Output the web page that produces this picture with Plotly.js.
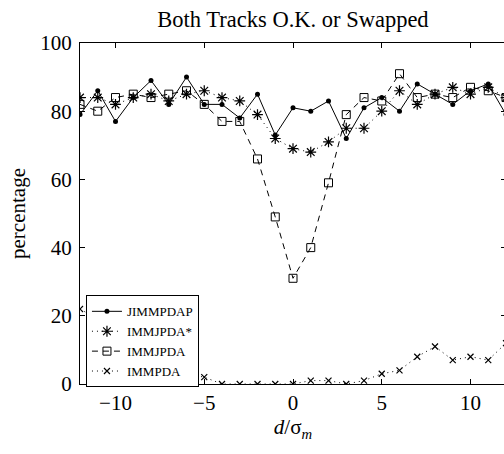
<!DOCTYPE html>
<html>
<head>
<meta charset="utf-8">
<script src="https://cdn.plot.ly/plotly-3.0.1.min.js"></script>
<style>
html,body{margin:0;padding:0;overflow:hidden;background:#fff;}
#chart{width:512px;height:454px;}
</style>
</head>
<body>
<div id="chart"></div>
<script>
// separation d/sigma_m
const dValues = [-12,-11,-10,-9,-8,-7,-6,-5,-4,-3,-2,-1,0,1,2,3,4,5,6,7,8,9,10,11,12];
// percentage of runs with both tracks OK or swapped
const jimmpdap = [79,86,77,84,89,82,90,82,82,78,85,73,81,80,83,72,81,84,80,88,85,82,86,88,79];
const immjpdaStar = [84,84,82,84,85,83,85,86,84,83,79,72,69,68,71,75,75,80,86,82,85,87,85,87,84];
const immjpda = [82,80,84,85,84,85,86,82,77,77,66,49,31,40,59,79,84,83,91,84,85,84,87,86,84];
const immpda = [22,19,15,11,8,5,3,2,0,0,0,0,0,1,1,0,1,3,4,8,11,7,8,7,12];
const seriesNames = ["JIMMPDAP","IMMJPDA*","IMMJPDA","IMMPDA"];
const xTicks = [-10,-5,0,5,10];
const yTicks = [0,20,40,60,80,100];

const FONT = "Liberation Serif, Times New Roman, serif";

const traces = [
  {x:dValues, y:jimmpdap, name:seriesNames[0], mode:"lines+markers",
   line:{color:"#000", width:1},
   marker:{symbol:"circle", size:5, color:"#000"}},
  {x:dValues, y:immjpdaStar, name:seriesNames[1], mode:"lines+markers",
   line:{color:"#000", width:1, dash:"1px,4px"},
   marker:{symbol:"asterisk-open", size:9, color:"#000", line:{color:"#000", width:1.2}}},
  {x:dValues, y:immjpda, name:seriesNames[2], mode:"lines+markers",
   line:{color:"#000", width:1, dash:"6px,5px"},
   marker:{symbol:"square-open", size:8, color:"#000", line:{color:"#000", width:1}}},
  {x:dValues, y:immpda, name:seriesNames[3], mode:"lines+markers",
   line:{color:"#000", width:1, dash:"1px,4px"},
   marker:{symbol:"x-thin-open", size:6, color:"#000", line:{color:"#000", width:1.2}}}
];

const axisCommon = {
  showline:true, linecolor:"#000", linewidth:1, mirror:"ticks",
  ticks:"inside", ticklen:5, tickcolor:"#000", tickwidth:1,
  showgrid:false, zeroline:false,
  tickfont:{family:FONT, size:21, color:"#000"}
};

const layout = {
  width:512, height:454,
  margin:{l:80, r:6, t:43, b:70},
  paper_bgcolor:"#fff", plot_bgcolor:"#fff",
  font:{family:FONT, color:"#000"},
  title:{text:"Both Tracks O.K. or Swapped", font:{family:FONT, size:22.5, color:"#000"},
         x:0.5, xref:"paper", y:1-19/454, yref:"container", yanchor:"middle"},
  xaxis:Object.assign({}, axisCommon, {
    range:[-12,12], tickvals:xTicks, ticktext:xTicks.map(v=>v<0?"\u2212"+Math.abs(v):String(v)),
    title:{text:"<i>d</i>/σ<sub><i>m</i></sub>", font:{family:FONT, size:21, color:"#000"}, standoff:4}
  }),
  yaxis:Object.assign({}, axisCommon, {
    range:[0,100], tickvals:yTicks, ticklabelstandoff:3,
    title:{text:"percentage", font:{family:FONT, size:21, color:"#000"}, standoff:8}
  }),
  showlegend:true,
  legend:{x:0.014, y:0.125, xanchor:"left", yanchor:"middle",
          bgcolor:"#fff", bordercolor:"#000", borderwidth:1,
          font:{family:FONT, size:13, color:"#000"}, itemwidth:30, tracegroupgap:0}
};

Plotly.newPlot("chart", traces, layout, {displayModeBar:false, staticPlot:true});
</script>
</body>
</html>
